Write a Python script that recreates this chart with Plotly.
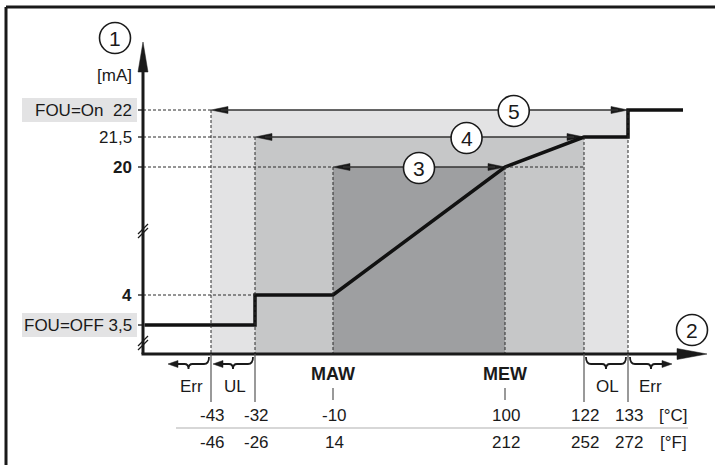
import numpy as np
import plotly.graph_objects as go

# ── Data ─────────────────────────────────────────────────────────────────────
TEMP_C = [-43, -32, -10, 100, 122, 133]
TEMP_F = [-46, -26, 14, 212, 252, 272]

MA_LEVELS = [3.5, 4, 20, 21.5, 22]
MA_LABELS = ["FOU=OFF 3,5", "<b>4</b>", "<b>20</b>", "21,5", "FOU=On  22"]

# output curve (°C, mA)
CURVE_C = [-32, -32, -10, 100, 122, 133, 133]
CURVE_MA = [3.5, 4, 4, 20, 21.5, 21.5, 22]

# nested ranges 5 / 4 / 3
ZONE_IDS = ["5", "4", "3"]
ZONE_LO = [-43, -32, -10]
ZONE_HI = [133, 122, 100]
ZONE_MA = [22, 21.5, 20]

# bands below the axis
BAND_LABELS = ["Err", "UL", "OL", "Err"]
SPAN_LABELS = ["MAW", "MEW"]
SPAN_C = [-10, 100]

# ── Schematic mapping (diagram is not to scale) ──────────────────────────────
X_AT_TEMP = [211, 255, 333, 505, 584, 628]
Y_AT_MA = [325, 295, 167, 137, 110]
X0, Y0 = 143, 354            # origin
X_TIP, Y_TIP = 707, 42       # arrow tips
X_CURVE_END = 683

INK = "#1a1a1a"
DOT = "#2a2a2a"
ZONE_CLR = ["#e3e3e4", "#c6c7c8", "#9e9fa1"]
LABEL_BG = "#e3e3e4"
FONT = "Liberation Sans, Arial, sans-serif"
FS = 17


def px(t):
    return float(np.interp(t, TEMP_C, X_AT_TEMP))


def py(m):
    return float(np.interp(m, MA_LEVELS, Y_AT_MA))


shapes = []
annotations = []
fig = go.Figure()


def line(x0, y0, x1, y1, color=INK, width=1, dash=None, layer="above"):
    shapes.append(dict(type="line", x0=x0, y0=y0, x1=x1, y1=y1, layer=layer,
                       line=dict(color=color, width=width, dash=dash)))


def tri(tip_x, tip_y, dx, dy, length, half, color=INK):
    # filled arrow head pointing along (dx, dy)
    bx, by = tip_x - dx * length, tip_y - dy * length
    nx, ny = -dy, dx
    fig.add_trace(go.Scatter(
        x=[tip_x, bx + nx * half, bx - nx * half, tip_x],
        y=[tip_y, by + ny * half, by - ny * half, tip_y],
        mode="lines", fill="toself", fillcolor=color,
        line=dict(color=color, width=0.5), hoverinfo="skip", showlegend=False,
    ))


def text(x, y, s, size=FS, xanchor="center", color=INK):
    annotations.append(dict(x=x, y=y, text=s, showarrow=False, xanchor=xanchor,
                            yanchor="middle", font=dict(family=FONT, size=size, color=color)))


def circled(x, y, s, r=15.5):
    shapes.append(dict(type="circle", x0=x - r, x1=x + r, y0=y - r, y1=y + r,
                       fillcolor="white", line=dict(color=INK, width=1.6), layer="above"))
    text(x, y + 0.5, s, size=21)


# frame (top and left edges visible)
line(6, 7, 715, 7, width=3)
line(6, 7, 6, 465, width=3)

# ── Zones ────────────────────────────────────────────────────────────────────
for clr, lo, hi, ma in zip(ZONE_CLR, ZONE_LO, ZONE_HI, ZONE_MA):
    shapes.append(dict(type="rect", x0=px(lo), x1=px(hi), y0=py(ma), y1=Y0,
                       fillcolor=clr, line=dict(width=0), layer="below"))

# dotted guides
for lo, hi, ma in zip(ZONE_LO, ZONE_HI, ZONE_MA):
    line(px(lo), py(ma), px(lo), Y0, color=DOT, dash="3px,2px")
    line(px(hi), py(ma), px(hi), Y0, color=DOT, dash="3px,2px")
    line(X0, py(ma), px(lo), py(ma), color=DOT, dash="3px,2px")
line(X0, py(4), px(-32), py(4), color=DOT, dash="3px,2px")
line(px(100), py(20), px(122), py(20), color=DOT, dash="3px,2px")

# label backgrounds
for ma in (22, 3.5):
    shapes.append(dict(type="rect", x0=22, x1=137, y0=py(ma) - 12, y1=py(ma) + 12,
                       fillcolor=LABEL_BG, line=dict(width=0), layer="below"))

# ── Range arrows with circled numbers ────────────────────────────────────────
CIRCLE_FRAC = [0.726, 0.643, 0.5]
for zid, lo, hi, ma, fr in zip(ZONE_IDS, ZONE_LO, ZONE_HI, ZONE_MA, CIRCLE_FRAC):
    xa, xb, y = px(lo), px(hi), py(ma)
    line(xa + 10, y, xb - 10, y, color="#333333", width=1.3)
    tri(xa, y, -1, 0, 17, 3.5)
    tri(xb, y, 1, 0, 17, 3.5)
    circled(xa + (xb - xa) * fr, y + 1, zid)

# ── Axes ─────────────────────────────────────────────────────────────────────
line(X0, Y0, X0, Y_TIP + 20, width=3)
line(X0 - 1.5, Y0, X_TIP - 20, Y0, width=3)
tri(X0, Y_TIP, 0, -1, 30, 5)
tri(X_TIP, Y0, 1, 0, 30, 5.5)

# axis breaks
for yb in (231, 343):
    for off in (-2, 2):
        line(X0 - 5, yb + off + 5, X0 + 5, yb + off - 5, width=1.3)

# y ticks and labels
for ma, lab in zip(MA_LEVELS, MA_LABELS):
    line(X0 - 5, py(ma), X0, py(ma), width=1.3)
    text(134, py(ma), lab, xanchor="right")
text(134, 75, "[mA]", xanchor="right")
circled(115, 38, "1")
circled(692, 330, "2")

# ── Output curve ─────────────────────────────────────────────────────────────
cx = [X0 + 1.5] + [px(t) for t in CURVE_C] + [X_CURVE_END]
cy = [py(CURVE_MA[0])] + [py(m) for m in CURVE_MA] + [py(CURVE_MA[-1])]
fig.add_trace(go.Scatter(x=cx, y=cy, mode="lines", line=dict(color="#111111", width=3.5),
                         hoverinfo="skip", showlegend=False))

# ── Below the axis ───────────────────────────────────────────────────────────
for t in (-43, -32, 122, 133):
    line(px(t), Y0, px(t), 402, color="#555555", width=1.2)


def brace(xa, xb, hook_b=False, arrow=True):
    s = 1 if xb > xa else -1
    yt, yl, yc, r = 357, 364, 369, 5
    xm = (xa + xb) / 2
    end = xb - s * (7 if arrow else 0)
    p = f"M {xa} {yt} Q {xa} {yl} {xa + s * r} {yl} L {xm - s * 4} {yl} " \
        f"Q {xm} {yl} {xm} {yc} Q {xm} {yl} {xm + s * 4} {yl} "
    if hook_b:
        p += f"L {xb - s * r} {yl} Q {xb} {yl} {xb} {yt}"
    else:
        p += f"L {end} {yl}"
    shapes.append(dict(type="path", path=p, line=dict(color=INK, width=1.8), layer="above"))
    if arrow:
        tri(xb, yl, s, 0, 10, 3.5)


brace(209, 168)
brace(253, 213)
brace(586, 626, hook_b=True, arrow=False)
brace(630, 672)

for lab, xc in zip(BAND_LABELS, [191, 235, 607, 650]):
    text(xc, 386, lab)

for lab, t in zip(SPAN_LABELS, SPAN_C):
    text(px(t), 374, f"<b>{lab}</b>", size=18)
    line(px(t), 388, px(t), 400, color="#555555", width=1.2)

for tc, tf in zip(TEMP_C, TEMP_F):
    text(px(tc) + 1, 415, str(tc))
    text(px(tc) + 1, 442, str(tf))
text(673, 415, "[°C]")
text(673, 442, "[°F]")
line(176, 428, 688, 428, color="#b0b0b0", width=1.2)

fig.update_layout(
    width=715, height=465,
    margin=dict(l=0, r=0, t=0, b=0),
    paper_bgcolor="white", plot_bgcolor="white",
    xaxis=dict(range=[0, 715], visible=False, fixedrange=True),
    yaxis=dict(range=[465, 0], visible=False, fixedrange=True),
    shapes=shapes, annotations=annotations, showlegend=False,
)

fig.write_html("out.html", config=dict(displayModeBar=False),
               post_script="document.body.style.margin='0';")
